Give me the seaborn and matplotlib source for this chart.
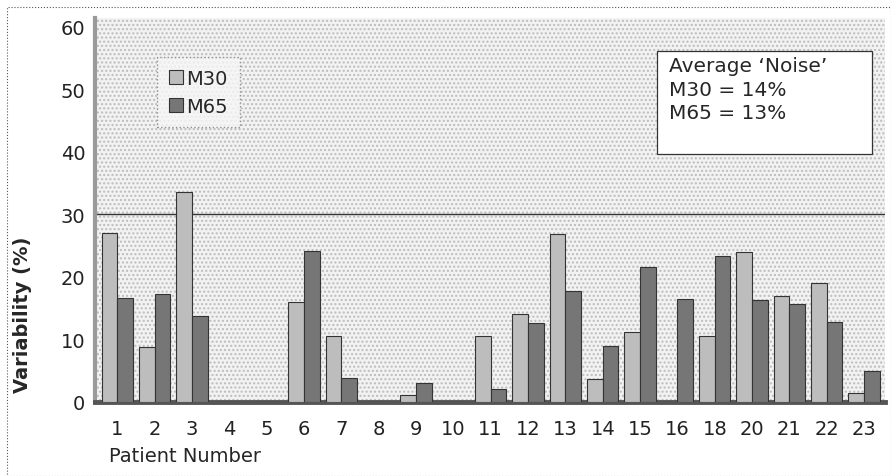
import pandas as pd
import matplotlib.pyplot as plt
import matplotlib.patches as mpatches
import seaborn as sns

patients = ['1', '2', '3', '4', '5', '6', '7', '8', '9', '10', '11', '12',
            '13', '14', '15', '16', '18', '20', '21', '22', '23']
m30 = [27, 8.8, 33.5, 0, 0, 16, 10.5, 0, 1.1, 0, 10.5, 14,
       26.8, 3.7, 11.2, 0, 10.6, 24, 17, 19, 1.5]
m65 = [16.6, 17.3, 13.8, 0, 0, 24.2, 3.8, 0, 3, 0, 2, 12.6,
       17.8, 9, 21.6, 16.4, 23.3, 16.3, 15.6, 12.8, 5]

df = pd.DataFrame({'Patient': patients * 2,
                   'Variability': m30 + m65,
                   'Series': ['M30'] * len(patients) + ['M65'] * len(patients)})

sns.set_style('white')
plt.rcParams['font.family'] = ['DejaVu Sans']

fig = plt.figure(figsize=(8.91, 4.77), dpi=100)
ax = fig.add_axes([95 / 891, 1 - 403 / 477, 790 / 891, 384 / 477])
ax.set_facecolor('#f2f2f2')

sns.barplot(data=df, x='Patient', y='Variability', hue='Series', ax=ax,
            palette={'M30': '#bdbdbd', 'M65': '#767676'},
            width=0.84, edgecolor='#333333', linewidth=0.8, zorder=3)

# dotted backdrop pattern
ax.add_patch(mpatches.Rectangle((0, 0), 1, 1, transform=ax.transAxes,
                                facecolor='none', edgecolor='#bcbcbc',
                                hatch='....', linewidth=0, zorder=0))
ax.axhline(30, color='#333333', linewidth=1.0, zorder=2)

ax.set_ylim(0, 61.4)
ax.set_xlim(-0.6, len(patients) - 0.44)
ax.set_yticks([0, 10, 20, 30, 40, 50, 60])
ax.tick_params(axis='y', labelsize=14, colors='#222222', length=3, pad=4)
ax.tick_params(axis='x', labelsize=14, colors='#222222', length=3, pad=9)
ax.set_xlabel('Patient Number', fontsize=14, labelpad=1)
ax.xaxis.set_label_coords(0.018, -0.115)
ax.xaxis.label.set_horizontalalignment('left')
ax.set_ylabel('Variability (%)', fontsize=14, fontweight='bold')
ax.yaxis.set_label_coords(-0.08, 0.23)

for s in ['top', 'right']:
    ax.spines[s].set_visible(False)
ax.spines['left'].set_color('#9a9a9a')
ax.spines['left'].set_linewidth(3)
ax.spines['bottom'].set_color('#555555')
ax.spines['bottom'].set_linewidth(3.5)

leg = ax.legend(loc='upper left', bbox_to_anchor=(0.079, 0.898), fontsize=14,
                frameon=True, fancybox=False, edgecolor='#777777',
                handlelength=0.7, handleheight=0.7, handletextpad=0.2,
                borderpad=0.6, labelspacing=0.45, borderaxespad=0)
leg.get_frame().set_linestyle(':')
leg.get_frame().set_facecolor('#f6f6f6')

ax.add_patch(mpatches.Rectangle((0.711, 0.646), 0.273, 0.268,
                                transform=ax.transAxes, facecolor='white',
                                edgecolor='#333333', linewidth=0.9, zorder=5))
ax.text(0.727, 0.9, "Average \u2018Noise\u2019\nM30 = 14%\nM65 = 13%",
        transform=ax.transAxes, fontsize=14.5, va='top', ha='left',
        linespacing=1.3, zorder=6)

fig.patches.append(mpatches.Rectangle((7 / 891, 0), 884 / 891, 1 - 8 / 477,
                                      transform=fig.transFigure, fill=False,
                                      edgecolor='#555555', linewidth=0.8,
                                      linestyle=':'))

fig.savefig('out.png', dpi=100)
